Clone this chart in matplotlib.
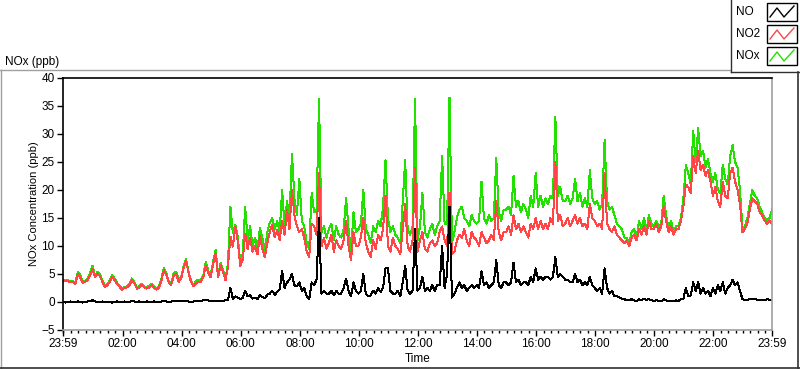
import numpy as np
import matplotlib
matplotlib.use("Agg")
import matplotlib.pyplot as plt
from matplotlib.lines import Line2D
from matplotlib.patches import Rectangle

plt.rcParams["font.family"] = ["Liberation Sans", "DejaVu Sans"]
plt.rcParams["font.size"] = 8

# minutes after 23:59, one sample every 5 minutes
minutes = np.arange(0, 1441, 5)

# NO2 (ppb), one row per hour
no2 = [
    3.6, 3.8, 3.7, 3.5, 3.6, 3.2, 5.0, 4.4, 3.4, 3.6, 3.9, 4.7,
    5.9, 4.4, 5.1, 4.7, 3.6, 2.7, 3.0, 3.6, 4.4, 3.9, 3.2, 2.7,
    2.2, 2.5, 2.6, 3.0, 3.9, 3.3, 2.4, 2.6, 3.1, 2.6, 2.4, 2.6,
    3.0, 2.5, 2.2, 2.6, 3.9, 5.7, 4.8, 3.4, 3.1, 4.8, 5.0, 3.6,
    4.2, 6.1, 7.3, 5.2, 3.6, 2.8, 3.3, 3.6, 3.6, 4.4, 6.5, 5.2,
    4.4, 6.9, 8.7, 4.4, 6.6, 5.4, 3.9, 6.3, 11.7, 9.9, 13.4, 10.8,
    6.5, 7.5, 12.2, 9.5, 11.5, 9.0, 10.0, 8.5, 11.8, 9.5, 8.0, 10.5,
    12.5, 13.8, 11.6, 12.8, 11.0, 14.5, 12.0, 16.5, 13.0, 20.0, 15.5, 13.5,
    12.5, 13.0, 11.5, 9.0, 8.0, 14.0, 13.5, 12.0, 23.0, 10.0, 11.5, 9.5,
    10.5, 12.0, 9.0, 11.0, 10.0, 9.5, 11.0, 14.5, 10.0, 7.5, 12.5, 10.0,
    10.0, 11.5, 15.0, 10.5, 9.0, 8.0, 11.0, 9.5, 12.0, 11.0, 13.0, 19.0,
    10.0, 9.0, 11.5, 10.0, 9.5, 8.5, 13.0, 17.5, 10.0, 9.0, 11.0, 24.0,
    9.0, 11.0, 12.5, 9.5, 9.0, 10.5, 11.0, 10.0, 10.5, 12.5, 13.5, 11.0,
    10.0, 19.5, 8.5, 9.0, 11.0, 12.0, 11.5, 13.0, 11.0, 10.0, 12.5, 11.5,
    11.0, 10.0, 12.5, 11.5, 10.5, 11.0, 12.0, 11.0, 18.0, 12.5, 11.0, 12.5,
    12.5, 13.5, 12.0, 15.5, 13.0, 14.0, 12.5, 13.5, 12.5, 11.5, 14.0, 13.0,
    15.0, 13.0, 14.5, 13.0, 14.0, 13.0, 15.0, 14.0, 25.0, 14.5, 15.5, 13.5,
    14.0, 15.0, 13.5, 14.5, 15.5, 14.0, 15.0, 13.5, 14.0, 13.0, 17.5, 15.0,
    14.5, 13.5, 14.0, 13.0, 23.0, 14.0, 13.0, 12.5, 13.5, 12.0, 11.5, 11.0,
    10.5, 11.0, 10.0, 11.5, 12.0, 11.0, 13.0, 12.0, 13.5, 12.0, 14.5, 13.0,
    13.0, 14.0, 12.5, 13.5, 17.0, 14.5, 12.5, 13.5, 12.0, 13.0, 13.0, 14.5,
    17.0, 21.0, 20.5, 19.5, 26.0, 23.0, 27.0, 23.5, 24.5, 22.5, 23.5, 21.5,
    19.0, 20.5, 18.0, 17.0, 21.5, 19.0, 18.5, 23.0, 24.0, 21.5, 20.0, 17.5,
    12.5, 13.0, 14.0, 16.5, 18.5, 18.0, 17.5, 16.0, 15.5, 14.5, 14.0, 14.5, 14.0,
]

# NOx (ppb)
nox = [
    3.8, 4.0, 3.9, 3.7, 3.8, 3.4, 5.3, 4.9, 3.6, 3.8, 4.2, 5.2,
    6.5, 4.7, 5.4, 4.9, 3.8, 2.9, 3.2, 3.9, 4.8, 4.2, 3.4, 2.9,
    2.4, 2.7, 2.8, 3.2, 4.2, 3.5, 2.6, 2.8, 3.3, 2.8, 2.6, 2.9,
    3.2, 2.8, 2.4, 2.9, 4.2, 6.1, 5.1, 3.6, 3.4, 5.2, 5.4, 3.9,
    4.4, 6.4, 7.6, 5.4, 3.8, 3.0, 3.7, 4.0, 3.9, 4.8, 7.2, 5.6,
    4.7, 7.3, 9.3, 4.8, 7.0, 5.8, 4.2, 6.8, 17.0, 12.3, 13.8, 11.6,
    7.2, 8.5, 17.0, 11.0, 13.5, 10.0, 11.5, 9.5, 13.2, 11.5, 9.0, 12.5,
    14.2, 15.0, 13.0, 14.5, 12.5, 20.0, 13.5, 18.0, 15.0, 26.5, 18.5, 15.5,
    22.0, 14.5, 13.5, 10.5, 9.5, 19.5, 16.0, 16.5, 36.3, 12.5, 13.5, 11.5,
    13.0, 14.0, 11.0, 13.5, 12.0, 11.5, 13.0, 18.5, 13.0, 9.0, 16.0, 12.5,
    13.0, 14.0, 20.0, 13.0, 12.0, 10.5, 13.5, 12.5, 14.5, 13.5, 17.0, 25.3,
    15.0, 12.5, 13.5, 12.0, 11.5, 10.5, 18.0, 25.3, 13.0, 12.0, 13.5, 36.3,
    11.0, 13.5, 19.5, 12.5, 11.5, 13.0, 14.0, 12.0, 13.5, 14.5, 26.0, 14.0,
    14.0, 36.5, 10.5, 12.5, 15.0, 16.5, 17.0, 15.0, 14.5, 13.5, 15.5, 14.5,
    14.0, 14.5, 21.5, 15.0, 14.0, 15.5, 14.5, 15.0, 25.7, 16.0, 14.5, 16.5,
    16.5, 17.0, 15.5, 22.5, 17.0, 18.0, 16.0, 17.5, 16.5, 15.0, 19.0, 17.0,
    23.0, 17.0, 19.0, 17.0, 18.5, 17.5, 19.0, 18.5, 33.0, 19.0, 20.5, 18.0,
    18.0, 19.0, 17.5, 18.5, 22.0, 18.0, 19.5, 17.0, 18.5, 17.0, 23.5, 18.5,
    17.5, 18.0, 16.5, 17.5, 29.0, 18.0, 16.5, 17.0, 15.5, 14.0, 13.5, 13.0,
    11.5, 11.5, 10.5, 12.5, 13.0, 11.5, 14.5, 13.0, 15.0, 12.5, 15.5, 14.0,
    13.5, 14.5, 13.5, 14.0, 19.0, 15.5, 13.0, 14.5, 12.5, 13.5, 13.5, 15.0,
    18.5, 24.5, 23.0, 21.0, 30.5, 25.0, 31.0, 26.0, 27.0, 24.0, 25.5, 23.0,
    21.5, 23.0, 20.0, 19.5, 24.5, 22.0, 21.0, 26.0, 28.0, 25.0, 24.0, 20.0,
    13.0, 13.5, 15.0, 17.5, 20.0, 19.0, 18.5, 17.0, 16.0, 15.0, 14.5, 15.0, 16.5,
]

# NO (ppb)
no = [
    0.0, -0.1, 0.0, 0.1, 0.0, 0.0, 0.1, 0.0, -0.1, 0.0, 0.1, 0.2,
    0.3, 0.1, 0.0, 0.0, 0.1, 0.0, 0.0, 0.0, -0.1, 0.0, 0.1, 0.0,
    0.0, 0.1, 0.0, 0.0, 0.2, 0.1, 0.0, 0.1, 0.0, 0.0, 0.1, 0.0,
    0.0, 0.1, 0.0, 0.0, 0.1, 0.2, 0.1, 0.0, 0.1, 0.1, 0.2, 0.1,
    0.1, 0.1, 0.2, 0.1, 0.0, 0.1, 0.1, 0.2, 0.2, 0.3, 0.3, 0.3,
    0.1, 0.2, 0.1, 0.2, 0.2, 0.2, 0.3, 0.4, 2.5, 0.6, 1.0, 0.8,
    0.5, 0.7, 2.0, 1.0, 1.2, 0.6, 0.8, 0.5, 1.2, 0.9, 0.7, 1.3,
    1.5, 2.0, 1.3, 1.8, 2.2, 5.5, 2.5, 3.5, 4.0, 5.0, 3.0, 2.8,
    3.5, 2.0, 2.5, 1.0, 0.5, 3.5, 3.0, 4.0, 15.0, 1.5, 2.0, 1.5,
    1.5, 2.0, 1.2, 2.0, 1.5, 1.5, 2.5, 4.2, 2.0, 1.0, 3.5, 2.0,
    1.5, 2.0, 5.0, 1.5, 1.0, 1.2, 2.0, 1.5, 2.5, 1.8, 2.5, 6.0,
    6.0, 2.0, 1.5, 1.5, 2.0, 1.0, 3.5, 6.5, 2.0, 1.5, 2.0, 13.0,
    2.0, 2.5, 4.5, 2.0, 2.5, 2.0, 3.0, 2.0, 3.0, 3.0, 10.0, 2.5,
    5.0, 17.0, 0.8, 1.5, 2.5, 3.5, 2.5, 3.0, 2.0, 2.5, 3.0, 2.5,
    3.0, 2.5, 5.5, 3.0, 3.5, 2.5, 3.0, 3.5, 7.5, 3.0, 2.5, 3.5,
    3.5, 3.0, 3.5, 7.0, 3.5, 4.0, 3.0, 3.5, 3.5, 3.0, 4.5, 3.5,
    6.0, 4.0, 4.5, 4.0, 4.5, 4.5, 4.0, 4.5, 8.0, 4.5, 5.0, 4.5,
    4.0, 4.0, 3.5, 3.5, 5.0, 3.5, 4.0, 3.0, 3.5, 3.0, 4.5, 3.0,
    2.5, 2.0, 2.5, 1.5, 6.0, 2.5, 1.5, 2.0, 1.0, 1.0, 0.8, 0.6,
    0.5, 0.3, 0.3, 0.5, 0.3, 0.2, 0.5, 0.3, 0.6, 0.4, 0.5, 0.3,
    0.2, 0.3, 0.2, 0.1, 0.5, 0.3, 0.2, 0.1, 0.2, 0.3, 0.2, 0.5,
    0.6, 2.5, 1.0, 1.2, 3.5, 2.0, 3.5, 1.5, 2.5, 1.5, 2.0, 1.0,
    2.5, 1.5, 3.0, 2.0, 3.5, 1.5, 2.5, 3.0, 4.0, 3.0, 3.5, 2.0,
    0.5, 0.3, 0.4, 0.5, 0.6, 0.5, 0.4, 0.3, 0.4, 0.3, 0.5, 0.4, 0.3,
]

tick_pos = [0, 121, 241, 361, 481, 601, 721, 841, 961, 1081, 1201, 1321, 1440]
tick_labels = ["23:59", "02:00", "04:00", "06:00", "08:00", "10:00", "12:00",
               "14:00", "16:00", "18:00", "20:00", "22:00", "23:59"]

series_names = ["NO", "NO2", "NOx"]
series_colors = ["#000000", "#FF4545", "#22E000"]

W, H = 800, 369
fig = plt.figure(figsize=(W / 100, H / 100), dpi=100)
fig.patch.set_facecolor("white")

ax = fig.add_axes([63 / W, 1 - 330 / H, (772 - 63) / W, (330 - 78) / H])
ax.plot(minutes, nox, color=series_colors[2], lw=0.72, antialiased=False)
ax.plot(minutes, no2, color=series_colors[1], lw=0.72, antialiased=False)
ax.plot(minutes, no, color=series_colors[0], lw=0.72, antialiased=False)

ax.set_xlim(0, 1440)
ax.set_ylim(-5, 40)
ax.set_yticks(range(-5, 41, 5))
ax.set_xticks(tick_pos)
ax.set_xticklabels(tick_labels)
minor = [m for m in range(1, 1441, 15) if m not in tick_pos]
ax.set_xticks(minor, minor=True)
ax.tick_params(axis="both", which="major", direction="out", length=4, width=1,
               pad=2, labelsize=8.5)
ax.tick_params(axis="x", which="minor", direction="out", length=2.5, width=1)

for side in ("left", "top"):
    ax.spines[side].set_color("black")
for side in ("right", "bottom"):
    ax.spines[side].set_color("#A0A0A0")
for s in ax.spines.values():
    s.set_linewidth(1.2)

fig.text(5 / W, 1 - 62 / H, "NOx (ppb)", ha="left", va="center", fontsize=8.5)
fig.text(418 / W, 1 - 359 / H, "Time", ha="center", va="center", fontsize=8.5)
fig.text(34 / W, 1 - 204 / H, "NOx Concentration (ppb)", ha="center", va="center",
         rotation=90, fontsize=8)

# outer graph frame
tf = fig.transFigure
fig.add_artist(Line2D([0, 730 / W], [1 - 69.5 / H] * 2, color="#A0A0A0", lw=1, transform=tf))
fig.add_artist(Line2D([0.7 / W] * 2, [1 - 69.5 / H, 0], color="#A0A0A0", lw=1, transform=tf))
fig.add_artist(Line2D([0, 1], [1 - 367.5 / H] * 2, color="#303030", lw=1.2, transform=tf))
fig.add_artist(Line2D([797.5 / W] * 2, [1 - 72 / H, 1 - 368 / H], color="#303030", lw=1.2, transform=tf))

# legend box
fig.add_artist(Line2D([730.5 / W] * 2, [1, 1 - 72 / H], color="#303030", lw=1, transform=tf))
fig.add_artist(Line2D([730.5 / W, 1], [1 - 72 / H] * 2, color="#303030", lw=1, transform=tf))
row_y = [12, 34, 56]
for name, color, yc in zip(series_names, series_colors, row_y):
    fig.text(736 / W, 1 - yc / H, name, ha="left", va="center", fontsize=8.5)
    x0, x1 = 767, 797
    y0, y1 = yc - 9, yc + 9
    fig.add_artist(Rectangle((x0 / W, 1 - y1 / H), (x1 - x0) / W, (y1 - y0) / H,
                             transform=tf, facecolor="white", edgecolor="black", lw=1))
    zx = [x0 + 3, x0 + 10, x0 + 17, x0 + 27]
    zy = [y1 - 4, y0 + 5, y1 - 4, y0 + 3]
    fig.add_artist(Line2D([v / W for v in zx], [1 - v / H for v in zy],
                          color=color, lw=1, transform=tf))

fig.savefig("out.png", dpi=100)
